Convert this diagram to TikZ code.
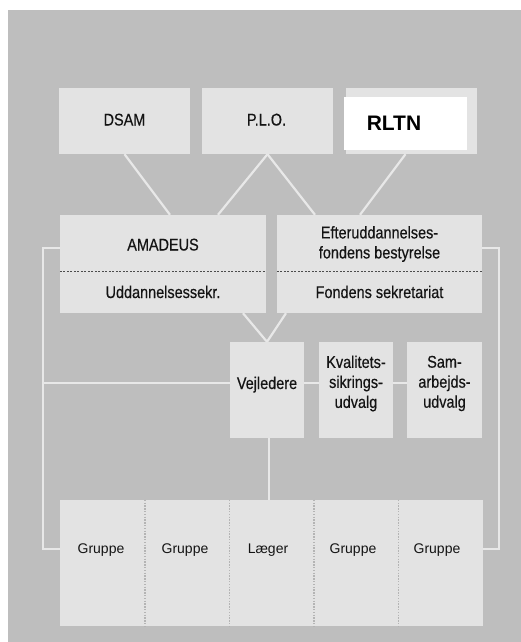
\documentclass[tikz,border=0pt]{standalone}
\usepackage{fontspec}
\setmainfont{Liberation Sans}
\newfontfamily\condfont[FakeStretch=0.85,FakeBold=0.4]{Liberation Sans}
\usetikzlibrary{calc}
\definecolor{bgc}{HTML}{BEBEBE}
\definecolor{boxc}{HTML}{E3E3E3}
\definecolor{linec}{HTML}{E8E8E8}
\definecolor{txtc}{HTML}{141414}
\definecolor{dotc}{HTML}{B4B4B4}
\begin{document}
\begin{tikzpicture}[x=1pt,y=-1pt,
  box/.style={fill=boxc, draw=none, inner sep=0pt, rectangle},
  conn/.style={draw=linec, line width=2.2pt},
  ctext/.style={font=\condfont\fontsize{17}{20}\selectfont, text=txtc, align=center, inner sep=0pt},
  onetext/.style={ctext, text height=12pt, text depth=0pt},
  gtext/.style={font=\fontsize{14}{17}\selectfont, text=txtc, inner sep=0pt, text height=10pt, text depth=0pt},
  sepline/.style={draw=black!70, line width=0.9pt, dash pattern=on 2pt off 1.5pt},
  dotline/.style={draw=dotc, line width=1.4pt, dash pattern=on 1.4pt off 1.4pt}]
\useasboundingbox (0,0) rectangle (521,642);
\fill[bgc] (8,10) rectangle (521,642);

% top row
\node[box, minimum width=131pt, minimum height=66pt] (dsam) at (124.5,121) {};
\node[box, minimum width=131pt, minimum height=66pt] (plo) at (267.5,121) {};
\node[box, minimum width=131pt, minimum height=66pt] (rltnbg) at (411.5,121) {};
\node[fill=white, inner sep=0pt, minimum width=123pt, minimum height=53pt] (rltn) at (405.5,123.5) {};
\node[onetext] (dsamt) at (124.5,119.5) {DSAM};
\node[onetext] (plot) at (266.5,119.5) {P.L.O.};
\node[font=\bfseries\fontsize{21}{24}\selectfont, text=black, inner sep=0pt, text height=15pt, text depth=0pt] (rltnt) at (394,123) {RLTN};

% middle row
\node[box, minimum width=206pt, minimum height=98pt] (amadeus) at (163,264) {};
\node[box, minimum width=205pt, minimum height=98pt] (efter) at (379.5,264) {};
\draw[sepline] ([yshift=-7pt]amadeus.west) -- ([yshift=-7pt]amadeus.east);
\draw[sepline] ([yshift=-7pt]efter.west) -- ([yshift=-7pt]efter.east);
\node[onetext] (amat) at (163,244.5) {AMADEUS};
\node[onetext] (uddt) at (163,292) {Uddannelsessekr.};
\node[ctext] (eftt) at (379.5,244) {Efteruddannelses-\\fondens bestyrelse};
\node[onetext] (fondt) at (379.5,292) {Fondens sekretariat};

% third row
\node[box, minimum width=74pt, minimum height=96pt] (vej) at (267,390) {};
\node[box, minimum width=74pt, minimum height=96pt] (kval) at (356,390) {};
\node[box, minimum width=75pt, minimum height=96pt] (sam) at (444.5,390) {};
\node[onetext] (vejt) at (267,383) {Vejledere};
\node[ctext] (kvalt) at (356,383.5) {Kvalitets-\\sikrings-\\udvalg};
\node[ctext] (samt) at (444.5,383.5) {Sam-\\arbejds-\\udvalg};

% bottom row
\node[box, minimum width=84.6pt, minimum height=126pt] (g1) at (102.3,563) {};
\node[box, minimum width=84.6pt, minimum height=126pt] (g2) at (186.9,563) {};
\node[box, minimum width=84.6pt, minimum height=126pt] (g3) at (271.5,563) {};
\node[box, minimum width=84.6pt, minimum height=126pt] (g4) at (356.1,563) {};
\node[box, minimum width=84.6pt, minimum height=126pt] (g5) at (440.7,563) {};
\draw[dotline] (g1.north east) -- (g1.south east);
\draw[dotline] (g2.north east) -- (g2.south east);
\draw[dotline] (g3.north east) -- (g3.south east);
\draw[dotline] (g4.north east) -- (g4.south east);
\node[gtext] (g1t) at (101,548) {Gruppe};
\node[gtext] (g2t) at (185,548) {Gruppe};
\node[gtext] (g3t) at (268,548) {Læger};
\node[gtext] (g4t) at (353,548) {Gruppe};
\node[gtext] (g5t) at (437,548) {Gruppe};

% connectors
\coordinate (lx) at (43,400);
\coordinate (rx) at (499,400);
\draw[conn] (dsam.south) -- ([xshift=7pt]amadeus.north);
\draw[conn] (plo.south) -- ([xshift=55pt]amadeus.north);
\draw[conn] (plo.south) -- ([xshift=-64.5pt]efter.north);
\draw[conn] ([xshift=-6pt]rltnbg.south) -- ([xshift=-19.5pt]efter.north);
\draw[conn] ([xshift=80pt]amadeus.south) -- (vej.north);
\draw[conn] ([xshift=-93.5pt]efter.south) -- (vej.north);
\draw[conn] ([yshift=16pt]amadeus.west) -| (lx) |- ([yshift=14pt]g1.west);
\draw[conn] ([yshift=16pt]efter.east) -| (rx) |- ([yshift=14pt]g5.east);
\draw[conn] ([yshift=7pt]vej.west -| lx) -- ([yshift=7pt]vej.west);
\draw[conn] ([yshift=7pt]vej.east) -- ([yshift=7pt]kval.west);
\draw[conn] ([yshift=7pt]kval.east) -- ([yshift=7pt]sam.west);
\draw[conn] ([xshift=2pt]vej.south) -- ([xshift=2pt]vej.south |- g3.north);
\end{tikzpicture}
\end{document}
